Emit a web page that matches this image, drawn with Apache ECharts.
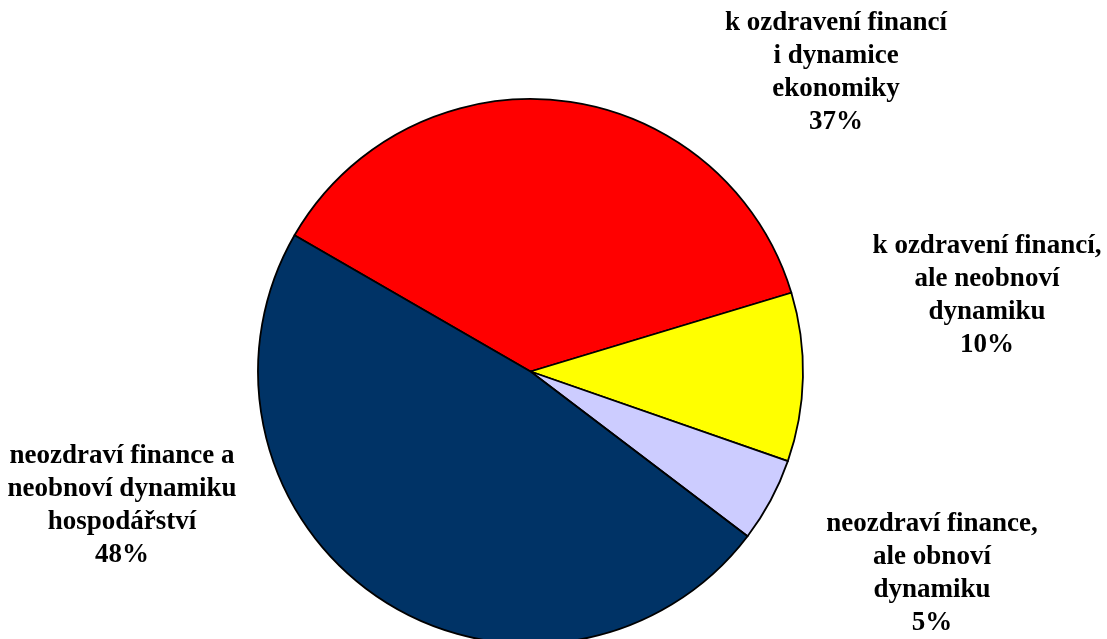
<!DOCTYPE html>
<html>
<head>
<meta charset="utf-8">
<style>
  html, body { margin: 0; padding: 0; background: #ffffff; }
  #chart { width: 1107px; height: 639px; }
</style>
<script src="https://cdn.jsdelivr.net/npm/echarts@6/dist/echarts.min.js"></script>
</head>
<body>
<div id="chart"></div>
<script>
const categories = [
  "k ozdravení financí\ni dynamice\nekonomiky",
  "k ozdravení financí,\nale neobnoví\ndynamiku",
  "neozdraví finance,\nale obnoví\ndynamiku",
  "neozdraví finance a\nneobnoví dynamiku\nhospodářství"
];
const values = [37, 10, 5, 48];
const colors = ["#FF0000", "#FFFF00", "#CCCCFF", "#003366"];

const labelCenters = [
  [836, 73],
  [987, 296],
  [932, 574],
  [122, 506]
];

const chart = echarts.init(document.getElementById('chart'), null, { renderer: 'canvas' });
chart.setOption({
  animation: false,
  backgroundColor: '#ffffff',
  series: [{
    type: 'pie',
    center: [530.5, 371.5],
    radius: [0, 272.5],
    startAngle: 150,
    clockwise: true,
    data: categories.map((c, i) => ({ name: c, value: values[i], itemStyle: { color: colors[i] } })),
    itemStyle: { borderColor: '#000000', borderWidth: 1.8 },
    emphasis: { disabled: true },
    label: {
      show: true,
      position: 'outside',
      formatter: '{b}\n{d}%',
      fontFamily: "'Liberation Serif', 'Times New Roman', serif",
      fontWeight: 'bold',
      fontSize: 27,
      lineHeight: 33,
      color: '#000000',
      align: 'center'
    },
    labelLine: { show: false },
    labelLayout: function (p) {
      const c = labelCenters[p.dataIndex];
      return { x: c[0], y: c[1], align: 'center', verticalAlign: 'middle' };
    }
  }]
});
</script>
</body>
</html>
